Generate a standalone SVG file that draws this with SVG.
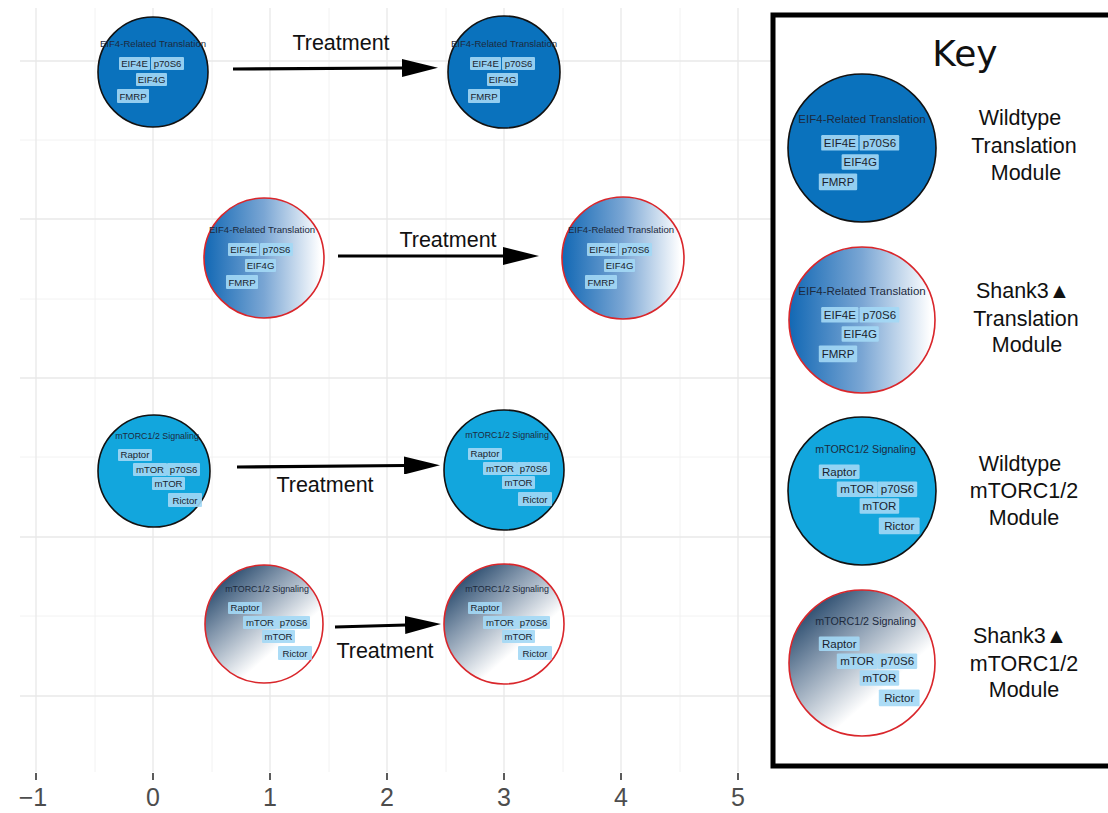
<svg xmlns="http://www.w3.org/2000/svg" xmlns:xlink="http://www.w3.org/1999/xlink" width="1108" height="813" viewBox="0 0 1108 813">
<style>
.gmaj{stroke:#e8e8e8;stroke-width:1.3;fill:none}
.gmin{stroke:#f0f0f0;stroke-width:0.9;fill:none}
.tick{stroke:#333;stroke-width:1.6}
.axl{font-family:"Liberation Sans",Arial,sans-serif;font-size:25px;fill:#4d4d4d;text-anchor:middle}
.wt{stroke:#111;stroke-width:1.6}
.sh{stroke:#d9262b;stroke-width:1.6}
.ttl{font-family:"Liberation Sans",Arial,sans-serif;font-size:9.6px;fill:#1c2a3d;text-anchor:middle}
.mttl{font-family:"Liberation Sans",Arial,sans-serif;font-size:8.9px;fill:#1c2a3d;text-anchor:middle}
.bx{fill:#a3d8f5;fill-opacity:0.9}
.bt{font-family:"Liberation Sans",Arial,sans-serif;font-size:9.6px;fill:#1a1f2e;text-anchor:middle}
.arr{stroke:#000;stroke-width:3.2;fill:none;marker-end:url(#ah)}
.tr{font-family:"Liberation Sans",Arial,sans-serif;font-size:21.5px;fill:#111;text-anchor:middle}
.kl{font-family:"Liberation Sans",Arial,sans-serif;font-size:21.5px;fill:#111;text-anchor:middle}
</style>
<defs>
<marker id="ah" viewBox="0 0 36 18" refX="1" refY="9" markerWidth="36" markerHeight="18" markerUnits="userSpaceOnUse" orient="auto">
<path d="M0,0 L36,9 L0,18 z" fill="#000"/>
</marker>
<linearGradient id="gTrans" x1="0" y1="0" x2="1" y2="0">
<stop offset="0" stop-color="#1268b4"/>
<stop offset="0.5" stop-color="#7aa6d4"/>
<stop offset="0.97" stop-color="#ffffff"/>
</linearGradient>
<linearGradient id="gMtor" x1="0.1" y1="0.05" x2="0.8" y2="0.85">
<stop offset="0" stop-color="#163a5f"/>
<stop offset="0.35" stop-color="#8195ab"/>
<stop offset="0.78" stop-color="#ffffff"/>
</linearGradient>
<g id="transC">
<text class="ttl" x="0" y="-25">EIF4-Related Translation</text>
<rect class="bx" x="-34" y="-15" width="31" height="13" rx="1"/>
<rect class="bx" x="-2" y="-15" width="33" height="13" rx="1"/>
<rect class="bx" x="-17" y="1" width="31" height="13" rx="1"/>
<rect class="bx" x="-36" y="17" width="32" height="14" rx="1"/>
<text class="bt" x="-18.5" y="-5">EIF4E</text>
<text class="bt" x="14.5" y="-5">p70S6</text>
<text class="bt" x="-1.5" y="11">EIF4G</text>
<text class="bt" x="-20" y="27.5">FMRP</text>
</g>
<g id="mtorC">
<text class="mttl" x="3" y="-32">mTORC1/2 Signaling</text>
<rect class="bx" x="-36" y="-22" width="34" height="12" rx="1"/>
<rect class="bx" x="-21" y="-8" width="34" height="13" rx="1"/>
<rect class="bx" x="13" y="-8" width="33" height="13" rx="1"/>
<rect class="bx" x="-2" y="6" width="33" height="13" rx="1"/>
<rect class="bx" x="14" y="22" width="34" height="14" rx="1"/>
<text class="bt" x="-19" y="-12.8">Raptor</text>
<text class="bt" x="-4" y="2">mTOR</text>
<text class="bt" x="29.5" y="2">p70S6</text>
<text class="bt" x="14.5" y="16">mTOR</text>
<text class="bt" x="31" y="32.5">Rictor</text>
</g>
</defs>
<rect width="1108" height="813" fill="#fff"/>
<g id="grid">
<line class="gmin" x1="95" y1="8" x2="95" y2="772"/>
<line class="gmin" x1="212" y1="8" x2="212" y2="772"/>
<line class="gmin" x1="329" y1="8" x2="329" y2="772"/>
<line class="gmin" x1="446" y1="8" x2="446" y2="772"/>
<line class="gmin" x1="563" y1="8" x2="563" y2="772"/>
<line class="gmin" x1="680" y1="8" x2="680" y2="772"/>
<line class="gmin" x1="20" y1="140" x2="773" y2="140"/>
<line class="gmin" x1="20" y1="299" x2="773" y2="299"/>
<line class="gmin" x1="20" y1="457" x2="773" y2="457"/>
<line class="gmin" x1="20" y1="616" x2="773" y2="616"/>
<line class="gmaj" x1="36" y1="8" x2="36" y2="772"/>
<line class="gmaj" x1="153" y1="8" x2="153" y2="772"/>
<line class="gmaj" x1="270" y1="8" x2="270" y2="772"/>
<line class="gmaj" x1="387" y1="8" x2="387" y2="772"/>
<line class="gmaj" x1="504" y1="8" x2="504" y2="772"/>
<line class="gmaj" x1="621" y1="8" x2="621" y2="772"/>
<line class="gmaj" x1="738" y1="8" x2="738" y2="772"/>
<line class="gmaj" x1="20" y1="61" x2="773" y2="61"/>
<line class="gmaj" x1="20" y1="219" x2="773" y2="219"/>
<line class="gmaj" x1="20" y1="378" x2="773" y2="378"/>
<line class="gmaj" x1="20" y1="537" x2="773" y2="537"/>
<line class="gmaj" x1="20" y1="696" x2="773" y2="696"/>
</g>
<g id="axis">
<line class="tick" x1="36" y1="773" x2="36" y2="780"/>
<line class="tick" x1="153" y1="773" x2="153" y2="780"/>
<line class="tick" x1="270" y1="773" x2="270" y2="780"/>
<line class="tick" x1="387" y1="773" x2="387" y2="780"/>
<line class="tick" x1="504" y1="773" x2="504" y2="780"/>
<line class="tick" x1="621" y1="773" x2="621" y2="780"/>
<line class="tick" x1="738" y1="773" x2="738" y2="780"/>
<text class="axl" x="33" y="806">−1</text>
<text class="axl" x="153" y="806">0</text>
<text class="axl" x="270" y="806">1</text>
<text class="axl" x="387" y="806">2</text>
<text class="axl" x="504" y="806">3</text>
<text class="axl" x="621" y="806">4</text>
<text class="axl" x="738" y="806">5</text>
</g>
<g id="n1" transform="translate(153,72)"><circle r="55" fill="#0a72bd" class="wt"/><use xlink:href="#transC"/></g>
<g id="n2" transform="translate(504,72)"><circle r="56" fill="#0a72bd" class="wt"/><use xlink:href="#transC"/></g>
<g id="n3" transform="translate(264,258)"><circle r="60" fill="url(#gTrans)" class="sh"/><use xlink:href="#transC" transform="translate(-2,0)"/></g>
<g id="n4" transform="translate(623,258)"><circle r="61" fill="url(#gTrans)" class="sh"/><use xlink:href="#transC" transform="translate(-2,0)"/></g>
<g id="n5" transform="translate(154,471)"><circle r="56" fill="#12a6dd" class="wt"/><use xlink:href="#mtorC"/></g>
<g id="n6" transform="translate(504,470)"><circle r="60" fill="#12a6dd" class="wt"/><use xlink:href="#mtorC"/></g>
<g id="n7" transform="translate(264,624)"><circle r="59" fill="url(#gMtor)" class="sh"/><use xlink:href="#mtorC"/></g>
<g id="n8" transform="translate(504,624)"><circle r="60" fill="url(#gMtor)" class="sh"/><use xlink:href="#mtorC"/></g>
<g id="connectors">
<line class="arr" x1="233" y1="69" x2="403" y2="68"/>
<line class="arr" x1="338" y1="256" x2="504" y2="256"/>
<line class="arr" x1="237" y1="467" x2="405" y2="465.5"/>
<line class="arr" x1="335" y1="627" x2="406" y2="625"/>
<text class="tr" x="341" y="50">Treatment</text>
<text class="tr" x="448" y="247">Treatment</text>
<text class="tr" x="325" y="492">Treatment</text>
<text class="tr" x="385" y="658">Treatment</text>
</g>
<g id="key">
<rect x="773" y="15" width="345" height="751" fill="#fff" stroke="#000" stroke-width="5"/>
<text x="965" y="66" font-family="'DejaVu Sans',Verdana,sans-serif" font-size="36" fill="#111" text-anchor="middle">Key</text>
<g id="k1" transform="translate(862,148)"><circle r="74" fill="#0a72bd" class="wt"/><use xlink:href="#transC" transform="translate(0,5) scale(1.2)"/></g>
<g id="k2" transform="translate(862,320)"><circle r="73" fill="url(#gTrans)" class="sh"/><use xlink:href="#transC" transform="translate(0,5) scale(1.2)"/></g>
<g id="k3" transform="translate(862,491)"><circle r="74" fill="#12a6dd" class="wt"/><use xlink:href="#mtorC" transform="scale(1.2)"/></g>
<g id="k4" transform="translate(862,663)"><circle r="73" fill="url(#gMtor)" class="sh"/><use xlink:href="#mtorC" transform="scale(1.2)"/></g>
<text class="kl" x="1020" y="125">Wildtype</text>
<text class="kl" x="1024" y="153">Translation</text>
<text class="kl" x="1026" y="180">Module</text>
<text class="kl" x="1023" y="298">Shank3▲</text>
<text class="kl" x="1026" y="326">Translation</text>
<text class="kl" x="1027" y="352">Module</text>
<text class="kl" x="1020" y="471">Wildtype</text>
<text class="kl" x="1024" y="498">mTORC1/2</text>
<text class="kl" x="1024" y="525">Module</text>
<text class="kl" x="1020" y="643">Shank3▲</text>
<text class="kl" x="1024" y="671">mTORC1/2</text>
<text class="kl" x="1024" y="697">Module</text>
</g>
</svg>
